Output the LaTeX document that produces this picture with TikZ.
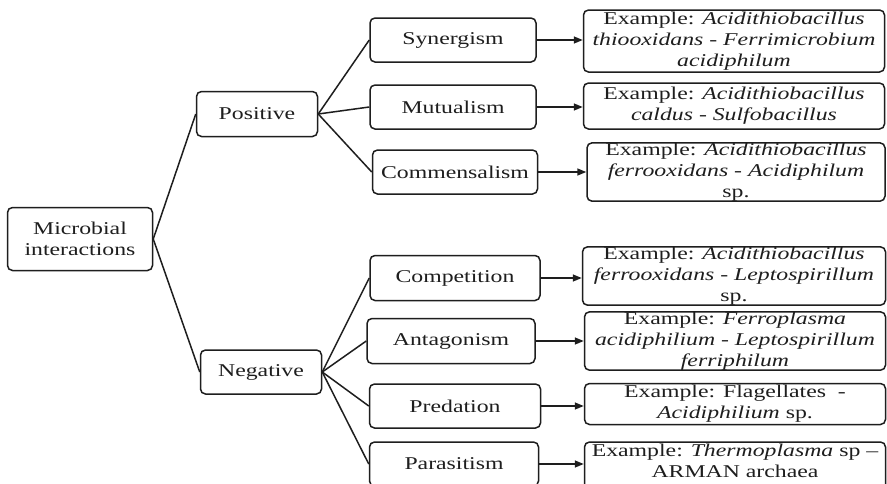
\documentclass[tikz,border=0pt]{standalone}
\usepackage{fontspec}
\setmainfont{Liberation Serif}[FakeStretch=1.32]
\usetikzlibrary{arrows.meta}
\definecolor{ink}{HTML}{1E1E1E}
\tikzset{
  box/.style={draw=ink, rounded corners=5pt, line width=1.5pt, align=center,
    inner sep=0pt, text=ink, font=\fontsize{18}{21}\selectfont},
  plain/.style={align=center, inner sep=0pt, text=ink, font=\fontsize{18}{21}\selectfont},
  link/.style={draw=ink, line width=1.5pt},
  arrowlink/.style={link, -{Triangle[length=9pt,width=7pt]}}
}
\begin{document}
\begin{tikzpicture}[x=1pt,y=-1pt]
\useasboundingbox (0,0) rectangle (887,483);
\clip (0,0) rectangle (887,483);
\fill[white] (0,0) rectangle (887,483);

% root and the two branches
\node[box, minimum width=145pt, minimum height=63pt] (mi)  at (80,239) {Microbial\\interactions};
\node[box, minimum width=121pt, minimum height=45pt] (pos) at (257,114) {Positive};
\node[box, minimum width=121pt, minimum height=44pt] (neg) at (261,372) {Negative};

% interaction types
\node[box, minimum width=166pt, minimum height=44pt] (syn) at (453,40)  {Synergism};
\node[box, minimum width=166pt, minimum height=44pt] (mut) at (453,107) {Mutualism};
\node[box, minimum width=165pt, minimum height=44pt] (com) at (455,172) {Commensalism};
\node[box, minimum width=170pt, minimum height=45pt] (cmp) at (455,278) {Competition};
\node[box, minimum width=168pt, minimum height=45pt] (ant) at (451,341) {Antagonism};
\node[box, minimum width=171pt, minimum height=44pt] (pre) at (455,406) {Predation};
\node[box, minimum width=169pt, minimum height=44pt] (par) at (454,464) {Parasitism};

% examples
\node[box, minimum width=301pt, minimum height=62pt] (ex1) at (734,41)
  {Example: \textit{Acidithiobacillus}\\\textit{thiooxidans - Ferrimicrobium}\\\textit{acidiphilum}};
\node[box, minimum width=301pt, minimum height=46pt] (ex2) at (734,106)
  {Example: \textit{Acidithiobacillus}\\\textit{caldus - Sulfobacillus}};
\node[box, minimum width=298pt, minimum height=57pt] (ex3) at (736,172)
  {Example: \textit{Acidithiobacillus}\\\textit{ferrooxidans - Acidiphilum}\\sp.};
\node[box, minimum width=303pt, minimum height=58pt] (ex4) at (734,276)
  {Example: \textit{Acidithiobacillus}\\\textit{ferrooxidans - Leptospirillum}\\sp.};
\node[box, minimum width=301pt, minimum height=57pt] (ex5) at (735,341)
  {Example: \textit{Ferroplasma}\\\textit{acidiphilium - Leptospirillum}\\\textit{ferriphilum}};
\node[box, minimum width=301pt, minimum height=41pt] (ex6) at (735,404)
  {Example: Flagellates \ -\\\textit{Acidiphilium} sp.};
% the last box runs past the lower edge; its text sits near its top
\node[box, minimum width=301pt, minimum height=54pt] (ex7) at (735,469) {};
\node[plain, anchor=north] (ex7t) at (735,444)
  {Example: \textit{Thermoplasma} sp --\\ARMAN archaea};

% tree links
\draw[link] (mi.east) -- (pos.west);
\draw[link] (mi.east) -- (neg.west);
\foreach \c in {syn,mut,com} \draw[link] (pos.east) -- (\c.west);
\foreach \c in {cmp,ant,pre,par} \draw[link] (neg.east) -- (\c.west);

% arrows to examples
\draw[arrowlink] (syn.east) -- (syn.east -| ex1.west);
\draw[arrowlink] (mut.east) -- (mut.east -| ex2.west);
\draw[arrowlink] (com.east) -- (com.east -| ex3.west);
\draw[arrowlink] (cmp.east) -- (cmp.east -| ex4.west);
\draw[arrowlink] (ant.east) -- (ant.east -| ex5.west);
\draw[arrowlink] (pre.east) -- (pre.east -| ex6.west);
\draw[arrowlink] (par.east) -- (par.east -| ex7.west);
\end{tikzpicture}
\end{document}
